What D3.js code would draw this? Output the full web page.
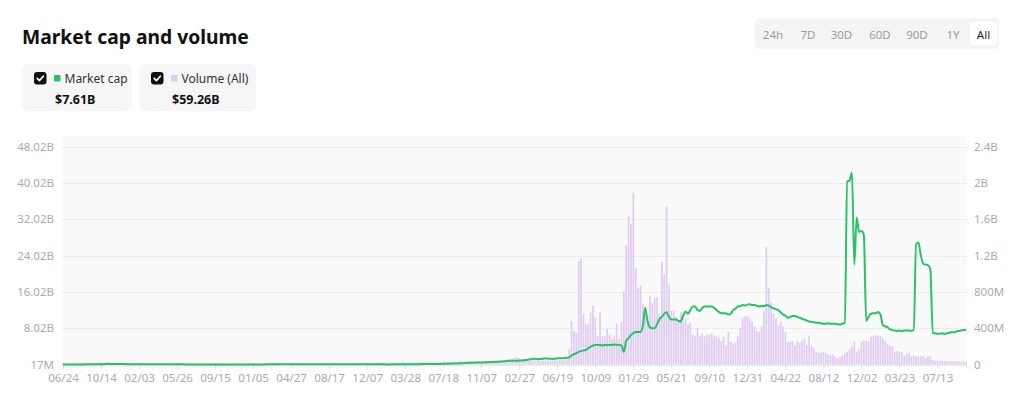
<!DOCTYPE html>
<html><head><meta charset="utf-8">
<script src="https://cdn.jsdelivr.net/npm/d3@7"></script>
<style>
body{margin:0;background:#fff;}
svg{display:block;font-family:"Noto Sans",sans-serif;}
</style>
</head><body>
<svg id="chart" width="1024" height="415"></svg>
<script>
// ---------- DATA ----------
const title = "Market cap and volume";
const seriesNames = ["Market cap", "Volume (All)"];
const seriesTotals = ["$7.61B", "$59.26B"];
const rangeButtons = ["24h", "7D", "30D", "60D", "90D", "1Y", "All"];
const selectedRange = "All";
// weekly points starting 2017-06-24; a date label every 16 weeks
const tickLabels = ["06/24","10/14","02/03","05/26","09/15","01/05","04/27","08/17","12/07","03/28","07/18","11/07","02/27","06/19","10/09","01/29","05/21","09/10","12/31","04/22","08/12","12/02","03/23","07/13"];
const tickEvery = 16;
const leftTicks = [0.017, 8.017, 16.017, 24.017, 32.017, 40.017, 48.017];
const leftTickLabels = ["17M","8.02B","16.02B","24.02B","32.02B","40.02B","48.02B"];
const rightTicks = [0, 0.4, 0.8, 1.2, 1.6, 2.0, 2.4];
const rightTickLabels = ["0","400M","800M","1.2B","1.6B","2B","2.4B"];

// market cap, billions USD (weekly)
const marketCap = [
0.02,0.02,0.03,0.03,0.03,0.04,0.04,0.03,0.03,0.04,0.05,0.05,0.04,0.05,0.06,0.07,
0.08,0.09,0.10,0.12,0.14,0.15,0.13,0.12,0.11,0.10,0.10,0.09,0.09,0.08,0.08,0.08,
0.07,0.07,0.07,0.06,0.06,0.06,0.06,0.05,0.05,0.05,0.05,0.05,0.05,0.05,0.05,0.05,
0.05,0.05,0.05,0.04,0.04,0.04,0.04,0.04,0.04,0.04,0.04,0.04,0.04,0.04,0.04,0.04,
0.04,0.04,0.04,0.04,0.04,0.04,0.04,0.03,0.03,0.03,0.03,0.03,0.03,0.03,0.03,0.03,
0.03,0.03,0.03,0.04,0.04,0.04,0.05,0.05,0.05,0.06,0.06,0.06,0.06,0.05,0.05,0.05,
0.05,0.05,0.05,0.05,0.05,0.05,0.05,0.05,0.05,0.05,0.05,0.05,0.05,0.05,0.05,0.05,
0.05,0.05,0.05,0.05,0.05,0.05,0.05,0.05,0.05,0.05,0.05,0.05,0.05,0.05,0.05,0.05,
0.05,0.05,0.05,0.05,0.05,0.05,0.05,0.05,0.04,0.04,0.04,0.05,0.05,0.05,0.06,0.06,
0.06,0.06,0.07,0.07,0.08,0.08,0.09,0.10,0.10,0.11,0.12,0.12,0.13,0.14,0.14,0.15,
0.16,0.17,0.18,0.20,0.22,0.24,0.26,0.28,0.30,0.32,0.35,0.38,0.40,0.42,0.44,0.45,
0.45,0.48,0.50,0.52,0.55,0.58,0.60,0.62,0.65,0.70,0.75,0.80,0.85,0.82,0.84,0.86,
0.88,0.90,0.95,1.00,1.10,1.20,1.30,1.25,1.20,1.25,1.30,1.35,1.32,1.28,1.25,1.30,
1.35,1.40,1.38,1.45,1.50,1.60,2.00,2.30,2.50,2.80,3.00,3.10,3.20,3.60,3.90,4.20,
4.30,4.30,4.30,4.20,4.30,4.30,4.30,4.35,4.40,4.35,4.30,4.20,2.80,5.20,5.80,6.50,
6.90,7.20,7.20,7.20,8.50,12.50,9.50,8.20,8.00,8.00,8.90,10.00,10.50,11.20,11.50,10.50,
9.90,9.90,9.90,9.60,9.50,10.80,11.70,11.20,12.00,12.80,12.80,12.00,11.80,12.50,12.80,12.80,
12.80,12.80,12.50,12.00,11.60,11.30,11.30,11.30,11.00,11.20,12.00,12.30,12.80,12.90,13.10,13.00,
13.20,13.30,13.10,13.10,12.90,12.80,12.90,12.90,13.10,13.00,12.60,12.40,12.20,12.00,11.50,11.00,
10.80,10.30,10.50,10.70,10.70,10.50,10.30,10.10,9.90,9.70,9.50,9.40,9.30,9.20,9.20,9.10,
9.00,9.00,9.10,9.00,9.00,9.00,8.90,8.80,9.00,9.20,40.30,40.50,42.30,22.00,32.40,29.20,
29.40,28.60,9.60,10.50,11.20,11.30,11.30,11.60,11.00,8.70,8.40,8.20,7.80,7.60,7.50,7.40,
7.50,7.40,7.50,7.50,7.50,7.40,7.60,26.60,26.80,24.00,22.20,22.00,21.90,21.00,6.90,6.90,
6.80,6.80,6.90,6.70,6.90,7.00,7.20,7.10,7.30,7.40,7.50,7.60,7.61
];

// volume, billions USD (weekly)
const volume = [
0.015,0.012,0.014,0.016,0.013,0.015,0.017,0.014,0.016,0.018,0.015,0.017,0.019,0.016,0.018,0.020,
0.022,0.020,0.024,0.026,0.025,0.022,0.020,0.019,0.018,0.020,0.017,0.016,0.018,0.017,0.015,0.016,
0.015,0.014,0.016,0.015,0.013,0.014,0.015,0.013,0.014,0.012,0.013,0.014,0.012,0.013,0.012,0.014,
0.013,0.012,0.014,0.013,0.012,0.013,0.012,0.014,0.013,0.012,0.013,0.012,0.013,0.014,0.012,0.013,
0.012,0.013,0.012,0.014,0.013,0.012,0.013,0.012,0.013,0.012,0.014,0.013,0.012,0.013,0.012,0.013,
0.013,0.012,0.014,0.015,0.016,0.015,0.017,0.016,0.018,0.017,0.016,0.018,0.017,0.016,0.015,0.016,
0.015,0.016,0.015,0.014,0.015,0.016,0.015,0.014,0.015,0.016,0.015,0.014,0.015,0.014,0.015,0.016,
0.015,0.014,0.015,0.016,0.015,0.014,0.015,0.016,0.015,0.014,0.015,0.016,0.015,0.014,0.015,0.016,
0.016,0.017,0.016,0.018,0.017,0.016,0.018,0.017,0.019,0.018,0.020,0.019,0.021,0.020,0.022,0.021,
0.024,0.022,0.025,0.023,0.026,0.024,0.027,0.025,0.028,0.026,0.029,0.027,0.028,0.030,0.029,0.031,
0.030,0.032,0.031,0.033,0.032,0.034,0.033,0.035,0.034,0.036,0.035,0.037,0.036,0.038,0.037,0.039,
0.038,0.040,0.039,0.041,0.040,0.042,0.041,0.043,0.045,0.044,0.050,0.055,0.060,0.065,0.075,0.078,
0.072,0.060,0.055,0.050,0.048,0.045,0.050,0.042,0.045,0.040,0.043,0.045,0.040,0.042,0.044,0.046,
0.045,0.050,0.048,0.055,0.060,0.17,0.48,0.37,0.35,1.14,1.17,0.56,0.44,0.45,0.57,0.65,
0.51,0.31,0.58,0.31,0.31,0.39,0.33,0.28,0.31,0.45,0.28,0.47,0.81,1.31,1.63,1.55,
1.89,1.06,0.84,0.87,0.67,0.55,0.53,0.75,0.68,0.73,0.74,0.56,1.13,1.00,1.74,0.88,
0.59,0.59,0.53,0.47,0.58,0.47,0.51,0.44,0.46,0.33,0.31,0.40,0.31,0.34,0.31,0.33,
0.33,0.34,0.31,0.31,0.29,0.26,0.31,0.21,0.36,0.25,0.23,0.24,0.31,0.40,0.51,0.53,
0.53,0.51,0.47,0.42,0.37,0.36,0.42,0.59,1.30,0.84,0.68,0.56,0.51,0.43,0.47,0.42,
0.36,0.25,0.25,0.26,0.21,0.26,0.24,0.26,0.29,0.21,0.31,0.20,0.18,0.14,0.13,0.13,
0.14,0.13,0.11,0.10,0.11,0.09,0.07,0.08,0.10,0.12,0.14,0.17,0.20,0.25,0.14,0.17,
0.25,0.27,0.26,0.25,0.31,0.31,0.32,0.32,0.31,0.29,0.26,0.23,0.21,0.20,0.14,0.15,
0.14,0.14,0.10,0.12,0.13,0.09,0.10,0.09,0.09,0.09,0.09,0.07,0.09,0.09,0.05,0.04,
0.04,0.04,0.035,0.04,0.04,0.035,0.04,0.035,0.04,0.035,0.03,0.035,0.03
];

// ---------- DRAW ----------
const svg = d3.select("#chart");
const plot = {left: 62, right: 967, top: 146.5, bottom: 364.5};
const N = marketCap.length;
const idx = d3.range(N);

const x = d3.scaleLinear().domain([0, N - 1]).range([63, 966]);
const yL = d3.scaleLinear().domain([leftTicks[0], leftTicks[leftTicks.length-1]]).range([plot.bottom, plot.top]);
const yR = d3.scaleLinear().domain([rightTicks[0], rightTicks[rightTicks.length-1]]).range([plot.bottom, plot.top]);

const axisColor = "#a7aab8";
const green = "#26c464";
const purple = "#dfcbf3";

// Title
svg.append("text").attr("x", 22).attr("y", 43.5)
  .attr("font-size", 19.3).attr("font-weight", 700).attr("fill", "#111")
  .text(title);

// Legend cards
const cards = [
  {x: 22, w: 110, color: green},
  {x: 139, w: 117, color: purple}
];
cards.forEach((c, k) => {
  const g = svg.append("g").attr("transform", `translate(${c.x},64)`);
  g.append("rect").attr("width", c.w).attr("height", 47).attr("rx", 7).attr("fill", "#f6f6f7");
  g.append("rect").attr("x", 12).attr("y", 8).attr("width", 12.5).attr("height", 12.5).attr("rx", 3).attr("fill", "#111");
  g.append("path").attr("d", "M15.2,14.4 L17.4,16.6 L21.3,12.2").attr("fill", "none")
    .attr("stroke", "#fff").attr("stroke-width", 1.7).attr("stroke-linecap", "round").attr("stroke-linejoin", "round");
  g.append("rect").attr("x", 32).attr("y", 11).attr("width", 6.5).attr("height", 6.5).attr("rx", 1).attr("fill", c.color);
  g.append("text").attr("x", 42.5).attr("y", 19).attr("font-size", 12).attr("fill", "#333").text(seriesNames[k]);
  g.append("text").attr("x", 33).attr("y", 40).attr("font-size", 12.5).attr("font-weight", 700).attr("fill", "#111").text(seriesTotals[k]);
});

// Range buttons
const bx = 755, bw = 244;
svg.append("rect").attr("x", bx).attr("y", 18).attr("width", bw).attr("height", 31).attr("rx", 5).attr("fill", "#f4f4f5");
const btnCenters = [773, 808, 841.5, 880, 917, 953, 983.5];
rangeButtons.forEach((b, k) => {
  if (b === selectedRange) {
    svg.append("rect").attr("x", btnCenters[k] - 14.5).attr("y", 21).attr("width", 29).attr("height", 25).attr("rx", 4)
      .attr("fill", "#fff").attr("stroke", "#ececec").attr("stroke-width", 0.6);
  }
  svg.append("text").attr("x", btnCenters[k]).attr("y", 39).attr("text-anchor", "middle")
    .attr("font-size", 11.5).attr("fill", b === selectedRange ? "#222" : "#9c9c9c").text(b);
});

// Plot background
svg.append("rect").attr("x", plot.left).attr("y", 136).attr("width", plot.right - plot.left)
  .attr("height", plot.bottom - 136 + 1).attr("fill", "#fafafa");

// Gridlines
svg.append("g").selectAll("line").data(leftTicks).join("line")
  .attr("x1", plot.left).attr("x2", plot.right)
  .attr("y1", d => Math.round(yL(d)) + 0.5).attr("y2", d => Math.round(yL(d)) + 0.5)
  .attr("stroke", "#ececec").attr("stroke-width", 1);

// Left axis
const axL = d3.axisLeft(yL).tickValues(leftTicks).tickFormat((d, k) => leftTickLabels[k]).tickSize(0).tickPadding(0);
const gL = svg.append("g").attr("transform", `translate(54,0)`).call(axL);
gL.select(".domain").remove();
gL.selectAll("text").attr("font-size", 11.5).attr("fill", axisColor).attr("font-family", "Noto Sans, sans-serif");

// Right axis
const axR = d3.axisRight(yR).tickValues(rightTicks).tickFormat((d, k) => rightTickLabels[k]).tickSize(0).tickPadding(0);
const gR = svg.append("g").attr("transform", `translate(974,0)`).call(axR);
gR.select(".domain").remove();
gR.selectAll("text").attr("font-size", 11.5).attr("fill", axisColor).attr("font-family", "Noto Sans, sans-serif");

// Bottom axis
const xTicks = tickLabels.map((_, k) => k * tickEvery);
const axB = d3.axisBottom(x).tickValues(xTicks).tickFormat((d, k) => tickLabels[k]).tickSize(4).tickPadding(5);
const gB = svg.append("g").attr("transform", `translate(0,${plot.bottom})`).call(axB);
gB.select(".domain").attr("stroke", "#e6e6e6");
gB.selectAll(".tick line").attr("stroke", "#dcdcdc");
gB.selectAll("text").attr("font-size", 11.5).attr("fill", axisColor).attr("font-family", "Noto Sans, sans-serif");

// Volume bars
svg.append("g").selectAll("rect").data(idx).join("rect")
  .attr("x", i => x(i) - 0.85).attr("width", 1.7)
  .attr("y", i => yR(volume[i]))
  .attr("height", i => plot.bottom - yR(volume[i]))
  .attr("fill", purple);

// Market cap line
const line = d3.line().x(i => x(i)).y(i => yL(marketCap[i])).curve(d3.curveMonotoneX);
svg.append("path").datum(idx).attr("d", line)
  .attr("fill", "none").attr("stroke", green).attr("stroke-width", 2).attr("stroke-linejoin", "round");
</script>
</body></html>
